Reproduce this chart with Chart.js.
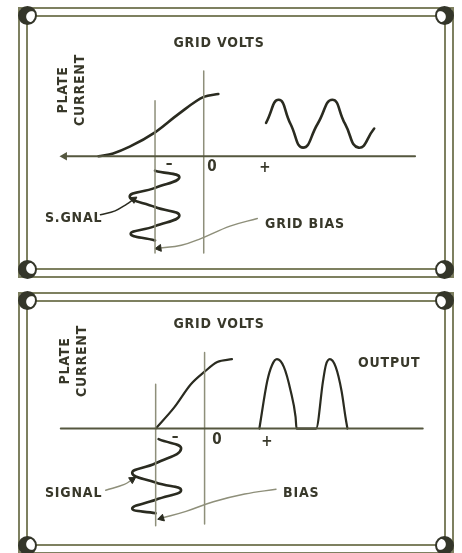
<!DOCTYPE html>
<html>
<head>
<meta charset="utf-8">
<script src="https://cdn.jsdelivr.net/npm/chart.js@4"></script>
<style>
body { margin: 0; background: #fff; width: 462px; height: 553px; position: relative; overflow: hidden; font-family: "DejaVu Sans Condensed", "DejaVu Sans", sans-serif }
.frame { position: absolute; border: 2px solid #7e8060; box-sizing: border-box }
.knob { position: absolute; width: 19px; height: 19px; margin: -9px 0 0 -9px; border-radius: 50%; box-sizing: border-box; border: 2px solid #34362a; background: #34362a }
.tl { background: radial-gradient(circle at 78% 58%, #fff 0 5px, #34362a 6px) }
.tr { background: radial-gradient(circle at 22% 58%, #fff 0 5px, #34362a 6px) }
.bl { background: radial-gradient(circle at 78% 42%, #fff 0 5px, #34362a 6px) }
.br { background: radial-gradient(circle at 22% 42%, #fff 0 5px, #34362a 6px) }
.lbl { position: absolute; transform: translate(-50%, -50%); font-weight: bold; font-size: 14px; color: #38382a; letter-spacing: 0.8px; white-space: nowrap; line-height: 1 }
.left { transform: translate(0, -50%) }
.rot { transform: translate(-50%, -50%) rotate(-90deg); text-align: center; line-height: 17px }
.sym { font-size: 15px; letter-spacing: 0 }
canvas { position: absolute; left: 0 }
</style>
</head>
<body>
<div class="frame" style="left:18px;top:7px;width:436px;height:271px"></div>
<div class="frame" style="left:26px;top:15px;width:420px;height:255px"></div>
<div class="frame" style="left:18px;top:292px;width:436px;height:262px"></div>
<div class="frame" style="left:26px;top:300px;width:420px;height:246px"></div>

<canvas id="top" width="462" height="280" style="top:0"></canvas>
<canvas id="bottom" width="462" height="273" style="top:280px"></canvas>

<div class="knob tl" style="left:27px;top:15px"></div>
<div class="knob tr" style="left:444px;top:15px"></div>
<div class="knob bl" style="left:27px;top:269px"></div>
<div class="knob br" style="left:444px;top:269px"></div>
<div class="knob tl" style="left:27px;top:300px"></div>
<div class="knob tr" style="left:444px;top:300px"></div>
<div class="knob bl" style="left:27px;top:545px"></div>
<div class="knob br" style="left:444px;top:545px"></div>

<div class="lbl" style="left:219px;top:42px">GRID VOLTS</div>
<div class="lbl rot" style="left:71px;top:90px">PLATE<br>CURRENT</div>
<div class="lbl sym" style="left:169px;top:163px">–</div>
<div class="lbl sym" style="left:212px;top:166px">0</div>
<div class="lbl sym" style="left:265px;top:167px">+</div>
<div class="lbl left" style="left:45px;top:217px">S.GNAL</div>
<div class="lbl left" style="left:265px;top:223px">GRID BIAS</div>

<div class="lbl" style="left:219px;top:323px">GRID VOLTS</div>
<div class="lbl rot" style="left:73px;top:361px">PLATE<br>CURRENT</div>
<div class="lbl left" style="left:358px;top:362px">OUTPUT</div>
<div class="lbl sym" style="left:175px;top:436px">–</div>
<div class="lbl sym" style="left:217px;top:439px">0</div>
<div class="lbl sym" style="left:267px;top:441px">+</div>
<div class="lbl left" style="left:45px;top:492px">SIGNAL</div>
<div class="lbl left" style="left:283px;top:492px">BIAS</div>

<script>
// top panel (grid volts on x, plate current on y)
const topAxisX = [-2.86, 4.34]
const topAxisY = [0, 0]
const topBiasLineX = [-1, -1]
const topBiasLineY = [1.16, -2.02]
const topZeroLineX = [0, 0]
const topZeroLineY = [1.78, -2.02]
const topCurveX = [-2.16, -1.86, -1.52, -1.0, -0.52, 0, 0.30]
const topCurveY = [0, 0.06, 0.2, 0.5, 0.88, 1.24, 1.30]
const topOutputX = [1.28, 1.54, 1.78, 2.04, 2.34, 2.64, 2.90, 3.18, 3.50]
const topOutputY = [0.70, 1.18, 0.68, 0.18, 0.68, 1.18, 0.68, 0.18, 0.58]
const topSignalX = [-1.0, -0.5, -1.0, -1.52, -1.0, -0.5, -1.0, -1.5, -1.0]
const topSignalY = [-0.30, -0.44, -0.66, -0.84, -1.06, -1.24, -1.46, -1.62, -1.76]
const topSignalArrowX = [-2.12, -1.82, -1.58, -1.44]
const topSignalArrowY = [-1.22, -1.14, -1.0, -0.9]
const topBiasArrowX = [1.10, 0.54, -0.06, -0.46, -0.92]
const topBiasArrowY = [-1.30, -1.46, -1.72, -1.86, -1.92]

// bottom panel
const botAxisX = [-2.94, 4.46]
const botAxisY = [0, 0]
const botBiasLineX = [-1, -1]
const botBiasLineY = [0.92, -2.02]
const botZeroLineX = [0, 0]
const botZeroLineY = [1.58, -1.98]
const botCurveX = [-1.0, -0.62, -0.28, 0, 0.26, 0.56]
const botCurveY = [0, 0.44, 0.92, 1.18, 1.38, 1.44]
const botOutputX = [1.12, 1.28, 1.38, 1.48, 1.62, 1.76, 1.86, 1.88, 2.28, 2.42, 2.48, 2.56, 2.68, 2.80, 2.88, 2.92]
const botOutputY = [0, 0.98, 1.32, 1.44, 1.28, 0.78, 0.24, 0, 0, 0.98, 1.32, 1.44, 1.28, 0.78, 0.24, 0]
const botSignalX = [-0.94, -0.48, -1.0, -1.48, -1.0, -0.48, -1.0, -1.48, -1.0]
const botSignalY = [-0.22, -0.42, -0.72, -0.92, -1.12, -1.28, -1.48, -1.66, -1.76]
const botSignalArrowX = [-2.02, -1.64, -1.48]
const botSignalArrowY = [-1.28, -1.16, -1.06]
const botBiasArrowX = [1.46, 0.82, 0.18, -0.38, -0.88]
const botBiasArrowY = [-1.26, -1.36, -1.52, -1.72, -1.86]

const INK = '#2a2b20'
const RULE = '#55573f'
const THIN = '#8e8f7a'

function pts(xs, ys) {
    return xs.map((x, i) => ({ x: x, y: ys[i] }))
}

function line(xs, ys, color, width, extra) {
    return Object.assign({
        data: pts(xs, ys),
        showLine: true,
        borderColor: color,
        borderWidth: width,
        borderCapStyle: 'round',
        pointRadius: 0,
        tension: 0
    }, extra || {})
}

// arrow = line with a triangle on the last point
function arrow(xs, ys, color, headColor, rot) {
    const n = xs.length
    return line(xs, ys, color, 1.5, {
        tension: 0.4,
        pointStyle: 'triangle',
        pointRadius: c => c.dataIndex === n - 1 ? 4 : 0,
        pointRotation: rot,
        pointBackgroundColor: headColor,
        pointBorderColor: headColor,
        pointBorderWidth: 1
    })
}

function makeChart(id, datasets, xmin, xmax, ymin, ymax) {
    return new Chart(document.getElementById(id), {
        type: 'scatter',
        data: { datasets: datasets },
        options: {
            responsive: false,
            animation: false,
            layout: { padding: 0 },
            scales: {
                x: { type: 'linear', display: false, min: xmin, max: xmax },
                y: { type: 'linear', display: false, min: ymin, max: ymax }
            },
            plugins: { legend: { display: false }, tooltip: { enabled: false } }
        }
    })
}

makeChart('top', [
    line(topAxisX, topAxisY, RULE, 2, {
        pointStyle: 'triangle', pointRotation: 270, pointBackgroundColor: RULE, pointBorderColor: RULE,
        pointRadius: c => c.dataIndex === 0 ? 3 : 0
    }),
    line(topBiasLineX, topBiasLineY, THIN, 1.5),
    line(topZeroLineX, topZeroLineY, THIN, 1.5),
    line(topCurveX, topCurveY, INK, 2.6, { cubicInterpolationMode: 'monotone' }),
    line(topOutputX, topOutputY, INK, 2.6, { tension: 0.52 }),
    line(topSignalX, topSignalY, INK, 2.6, { tension: 0.5 }),
    arrow(topSignalArrowX, topSignalArrowY, INK, INK, 55),
    arrow(topBiasArrowX, topBiasArrowY, THIN, INK, 263)
], -4.06, 5.18, -2.46, 3.14)

makeChart('bottom', [
    line(botAxisX, botAxisY, RULE, 2),
    line(botBiasLineX, botBiasLineY, THIN, 1.5),
    line(botZeroLineX, botZeroLineY, THIN, 1.5),
    line(botCurveX, botCurveY, INK, 2.2, { cubicInterpolationMode: 'monotone' }),
    line(botOutputX, botOutputY, INK, 2.2, { cubicInterpolationMode: 'monotone' }),
    line(botSignalX, botSignalY, INK, 2.6, { tension: 0.5 }),
    arrow(botSignalArrowX, botSignalArrowY, THIN, INK, 58),
    arrow(botBiasArrowX, botBiasArrowY, THIN, INK, 254)
], -4.08, 5.16, -2.48, 2.98)
</script>
</body>
</html>
